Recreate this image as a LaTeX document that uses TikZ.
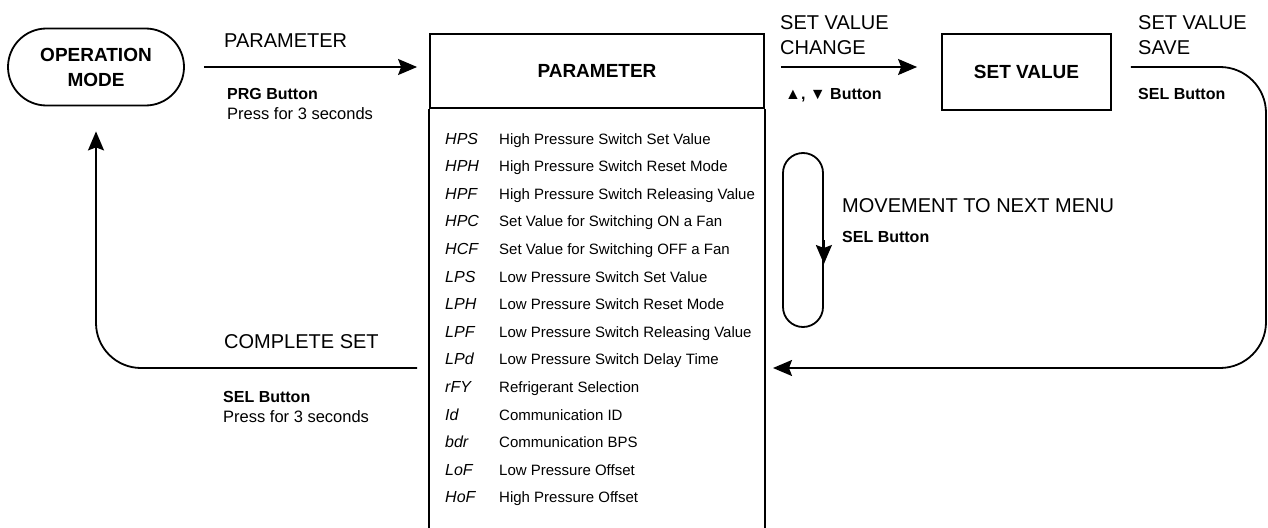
\documentclass[tikz,border=0pt]{standalone}
\usepackage{fontspec}
\setmainfont{Liberation Sans}
\usetikzlibrary{shapes.misc, arrows.meta, calc}
\tikzstyle{stage}=[draw, line width=1.8pt, inner sep=0pt, align=center, font=\bfseries\fontsize{19}{25}\selectfont]
\tikzstyle{flow}=[line width=1.8pt, -{Stealth[length=19pt, width=16pt, inset=3pt]}]
\tikzstyle{bigtxt}=[anchor=base west, inner sep=0pt, font=\fontsize{20}{24}\selectfont]
\tikzstyle{keytxt}=[anchor=base west, inner sep=0pt, font=\bfseries\fontsize{16}{19}\selectfont]
\tikzstyle{subtxt}=[anchor=base west, inner sep=0pt, font=\fontsize{16.5}{19}\selectfont]
\tikzstyle{codetxt}=[anchor=base west, inner sep=0pt, font=\itshape\fontsize{16}{19}\selectfont]
\tikzstyle{desctxt}=[anchor=base west, inner sep=0pt, font=\fontsize{15}{18}\selectfont]

\begin{document}
\begin{tikzpicture}[x=1pt, y=-1pt]
    \useasboundingbox (0,0) rectangle (1268,527);
% Stages
    \node[stage, rounded rectangle, minimum width=176pt, minimum height=77pt] (opmode) at (96,67) {OPERATION\\MODE};
    \node[stage, minimum width=334pt, minimum height=74pt] (paramhead) at (597,71) {PARAMETER};
    \node[stage, minimum width=169pt, minimum height=76pt] (setval) at (1026.5,72) {SET VALUE};
    \draw[line width=1.8pt] (paramhead.south west) -- ++(0,425);
    \draw[line width=1.8pt] (paramhead.south east) -- ++(0,425);
    \node[draw, line width=1.8pt, rounded corners=20pt, minimum width=40pt, minimum height=174pt] (loop) at (803,240) {};
% Parameter list
    \foreach \code/\desc [count=\i from 0] in {HPS/High Pressure Switch Set Value, HPH/High Pressure Switch Reset Mode, HPF/High Pressure Switch Releasing Value, HPC/Set Value for Switching ON a Fan, HCF/Set Value for Switching OFF a Fan, LPS/Low Pressure Switch Set Value, LPH/Low Pressure Switch Reset Mode, LPF/Low Pressure Switch Releasing Value, LPd/Low Pressure Switch Delay Time, rFY/Refrigerant Selection, Id/Communication ID, bdr/Communication BPS, LoF/Low Pressure Offset, HoF/High Pressure Offset} {
        \node[codetxt] (code\i) at (445,{144+27.6*\i}) {\code};
        \node[desctxt] (desc\i) at (499,{144+27.6*\i}) {\desc};
    }
% Connectors
    \coordinate (savestart) at ($(setval.east |- opmode.east)+(19,0)$);
    \coordinate (ne) at (1266,67);
    \coordinate (se) at (1266,368);
    \coordinate (back) at (773,368);
    \coordinate (donestart) at ($(back -| paramhead.west)+(-12,0)$);
    \draw[flow, shorten <=19pt, shorten >=12pt] (opmode.east) -- (opmode.east -| paramhead.west);
    \draw[flow, shorten <=16pt, shorten >=24pt] (paramhead.east |- opmode.east) -- (setval.west |- opmode.east);
    \draw[flow, rounded corners=46pt] (savestart) -- (ne) -- (se) -- (back);
    \draw[flow, rounded corners=45pt, shorten >=25pt] (donestart) -| (opmode.south);
    \draw[flow] (loop.east) -- ($(loop.east)+(0,24)$);
% Labels
    \node[bigtxt] (parlbl) at (224,48) {PARAMETER};
    \node[keytxt] (prgkey) at (227,99) {PRG Button};
    \node[subtxt] (prgsub) at (227,119) {Press for 3 seconds};
    \node[bigtxt] (chglbl) at (780,30) {SET VALUE};
    \node[bigtxt] (chglbl2) at (780,55) {CHANGE};
    \node[keytxt] (updown) at (785,99) {▲, ▼ Button};
    \node[bigtxt] (savelbl) at (1138,30) {SET VALUE};
    \node[bigtxt] (savelbl2) at (1138,55) {SAVE};
    \node[keytxt] (savekey) at (1138,99) {SEL Button};
    \node[bigtxt] (nextlbl) at (842,212) {MOVEMENT TO NEXT MENU};
    \node[keytxt] (nextkey) at (842,242) {SEL Button};
    \node[bigtxt] (donelbl) at (224,348) {COMPLETE SET};
    \node[keytxt] (donekey) at (223,402) {SEL Button};
    \node[subtxt] (donesub) at (223,422) {Press for 3 seconds};
\end{tikzpicture}
\end{document}
